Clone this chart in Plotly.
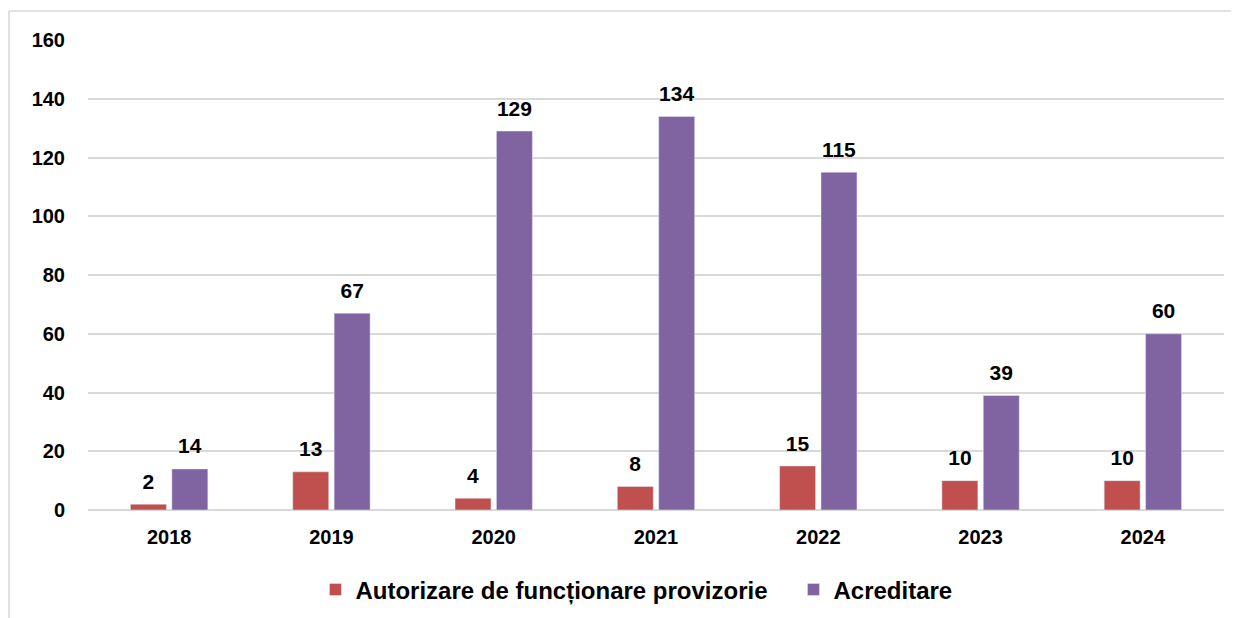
import plotly.graph_objects as go

years = ["2018", "2019", "2020", "2021", "2022", "2023", "2024"]
autorizare = [2, 13, 4, 8, 15, 10, 10]
acreditare = [14, 67, 129, 134, 115, 39, 60]

font_family = "Liberation Sans, Arial, sans-serif"
def bold(size):
    return dict(family=font_family, size=size, color="black", weight="bold")

label_tpl = "<span style='font-size:21px'>%{y}</span><br> "

fig = go.Figure()
fig.add_trace(go.Bar(
    x=years, y=autorizare, name="Autorizare de funcționare provizorie",
    marker_color="#C0504D", texttemplate=label_tpl, textposition="outside",
    textfont=bold(8), cliponaxis=False, hoverinfo="x+y",
))
fig.add_trace(go.Bar(
    x=years, y=acreditare, name="Acreditare",
    marker_color="#8064A2", texttemplate=label_tpl, textposition="outside",
    textfont=bold(8), cliponaxis=False, hoverinfo="x+y",
))

# page body has an 8px margin, so the figure is offset by 8px
W, H = 1231, 610
L, R, T, B = 80, 15, 32, 108
pw, ph = W - L - R, H - T - B
bx0 = (1 - L) / pw
by1 = 1 + (T - 3) / ph
by0 = -(B + 10) / ph
bx1 = 1 + (R + 10) / pw

fig.update_layout(
    width=W, height=H,
    margin=dict(l=L, r=R, t=T, b=B, autoexpand=False),
    plot_bgcolor="white", paper_bgcolor="white",
    barmode="group", bargap=0.49, bargroupgap=0.13,
    font=bold(20),
    uniformtext=dict(mode=False),
    legend=dict(orientation="h", x=0.621, xanchor="center", y=-0.17, yanchor="middle",
                font=bold(24), itemwidth=30, entrywidth=433, traceorder="normal"),
    xaxis=dict(tickfont=bold(20), showline=False, ticks="", showgrid=False,
               ticklabelstandoff=13, tickangle=0),
    yaxis=dict(range=[0, 160], dtick=20, tickfont=bold(20),
               showgrid=True, gridcolor="#D9D9D9", gridwidth=1.5, zeroline=True,
               zerolinecolor="#D9D9D9", zerolinewidth=1.5, ticks="", ticklabelstandoff=22),
    shapes=[
        dict(type="line", xref="paper", yref="paper", x0=bx0, x1=bx0, y0=by0, y1=by1,
             line=dict(color="#D9D9D9", width=1.5)),
        dict(type="line", xref="paper", yref="paper", x0=bx0, x1=bx1, y0=by1, y1=by1,
             line=dict(color="#D9D9D9", width=1.5)),
    ],
)
fig.write_html("out.html")
